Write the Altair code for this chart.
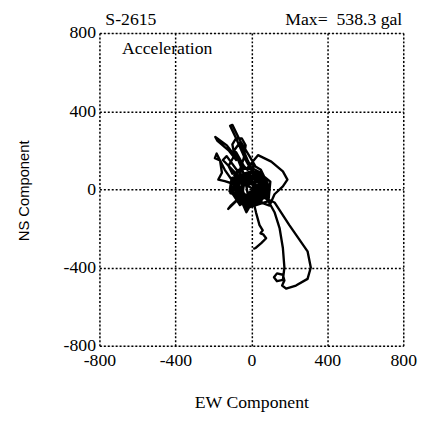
import altair as alt
import pandas as pd

# Orbit of the acceleration vector (gal)
ew = [0, 20, -30, -60, -20, 40, 50, 0, -50, -40, 10, 60, 30, -20, -70, -80, -30, 30, 70, 60, 10,
      -30, -80, -112, -100, -60, -10, 20, -20,
      -70, -129, -190, -180, -120, -80,
      -90, -100, -80, -50, -30, -40, -60,
      -90, -60, 0, 50, 30, -30, -90,
      -140, -183, -192, -165, -155, -174, -140, -100, -60,
      -20, 40, 80, 40, -20, -50, -40, 20, 70, 90,
      50, 0, -20, 35, 105, 166, 190, 166, 122, 96, 60, 20,
      -50, -90, -70, -10, 50, 70, 30, -30,
      -80, -122, -110, -60, 0, 30, -10, -60, -70,
      -26, -10, 20,
      60, 122, 200, 296, 313, 296, 235, 183, 162, 174, 166, 135, 119, 135, 166, 174, 166, 149, 122, 95, 60,
      10, -40, -50, 0, 50, 60, 20, -30, -20, 40, -70, -100, -60, 10, 80, 50, -40, -85, -30, 30,
      -60, -95, -45, 25, 75, 85, 35, -35, -75, -55, 5, 55, 65, 15, -45, -65, -15, 45, 35, -25,
      -40, -90, -60, -20, 10, -60, -150, -130, -70, -100, -120, -80, -40,
      -110, -100, -20, 30, 100, 90, -20, -115, -105, 20, 95, 80,
      -90, -70, 0, 60, 90, 40, -10, -80, -100, -30, 40, 80, 20, -50,
      10, 25, 43, 60, 48, 62, 78, 52, 23, 10]
ns = [0, 30, 50, 0, -40, -20, 30, 60, 30, -30, -50, 0, 50, 70, 40, -10, -60, -60, -10, 50, 80,
      150, 260, 325, 330, 250, 170, 120, 100,
      150, 225, 268, 250, 200, 150,
      180, 230, 262, 260, 225, 160, 100,
      60, -20, -40, 0, 60, 80, 30,
      100, 183, 160, 148, 85, 50, 42, 30, -10,
      -60, -50, 20, 80, 60, 10, -50, -80, -40, 20,
      100, 130, 110, 175, 142, 92, 50, 15, -25, -83, -70, -40,
      -30, 20, 70, 90, 60, 0, -50, -70,
      -60, -100, -85, -40, -20, 20, 50, 40, -20,
      -117, -90, -50,
      -40, -67, -183, -317, -400, -458, -492, -508, -492, -467, -437, -430, -450, -470, -463, -400, -300, -200, -117, -70, -20,
      30, 20, -40, -70, -40, 20, 60, 40, -20, 10, 60, -20, -80, -30, 40, -70, -60, 0, 70, -10,
      40, -10, -70, -75, -30, 35, 75, 65, 15, -45, -55, -15, 45, 55, 25, -25, -35, 0, 40, 20,
      80, 200, 240, 150, 90, 60, 150, 170, 90, 80, 120, 190, 120,
      -20, 60, -100, 95, 40, -60, -95, -10, 50, 90, 20, -50,
      70, 100, 110, 80, 20, -60, -90, -50, 10, 60, 50, -20, -80, -70,
      -60, -120, -183, -210, -225, -230, -250, -275, -300, -305]

df = pd.DataFrame({"ew": ew, "ns": ns, "i": list(range(len(ew)))})

ticks = [-800, -400, 0, 400, 800]
serif = "Liberation Serif"
fs = 18

x_axis = alt.Axis(values=ticks, grid=True, gridDash=[2, 2], gridColor="black", gridWidth=1.5,
                  gridOpacity=1, ticks=False, domain=False, labelFont=serif, labelFontSize=fs,
                  labelColor="black", labelPadding=6, labelFlush=False, labelOverlap=False,
                  labelExpr="'' + datum.value",
                  title="EW Component", titleFont=serif, titleFontSize=fs, titleFontWeight="normal",
                  titleColor="black", titleY=58, titleBaseline="middle")
y_axis = alt.Axis(values=ticks, grid=True, gridDash=[2, 2], gridColor="black", gridWidth=1.5,
                  gridOpacity=1, ticks=False, domain=False, labelFont=serif, labelFontSize=fs,
                  labelColor="black", labelPadding=4, labelFlush=False, labelOverlap=False,
                  labelExpr="'' + datum.value",
                  title="NS Component", titleFont="Liberation Sans", titleFontSize=15,
                  titleFontWeight="normal", titleColor="black", titleX=-77, titleY=160,
                  titleAngle=-90, titleBaseline="middle", titleAlign="center")

line = alt.Chart(df).mark_line(color="black", strokeWidth=2.4, strokeJoin="round", clip=True).encode(
    x=alt.X("ew:Q", scale=alt.Scale(domain=[-800, 800], nice=False, zero=False), axis=x_axis),
    y=alt.Y("ns:Q", scale=alt.Scale(domain=[-800, 800], nice=False, zero=False), axis=y_axis),
    order="i:Q",
)

def label(txt, px, py, align):
    return alt.Chart(pd.DataFrame({"t": [txt]})).mark_text(
        font=serif, fontSize=fs, color="black", align=align, baseline="middle"
    ).encode(x=alt.value(px), y=alt.value(py), text="t:N")

chart = alt.layer(
    line,
    label("S-2615", 6, -13, "left"),
    label("Max=\u00a0 538.3 gal", 308, -13, "right"),
    label("Acceleration", 23, 16, "left"),
).properties(
    width=309, height=318,
    autosize=alt.AutoSizeParams(type="none"),
    padding={"left": 93, "top": 22, "right": 16, "bottom": 65},
).configure_view(stroke="black", strokeWidth=2.4).configure(background="white")

chart.save("out.html", embed_options={"renderer": "svg", "actions": False})
